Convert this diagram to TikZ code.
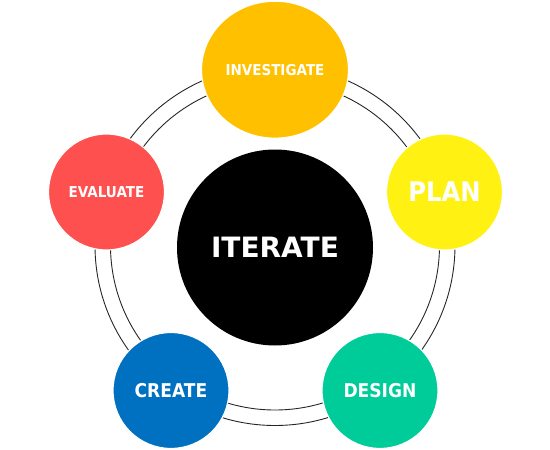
\documentclass[tikz,border=0pt]{standalone}
\usepackage{fontspec}
\usetikzlibrary{shapes.geometric}
\newfontfamily\lblfont[FakeStretch=0.9]{DejaVu Sans}
\newfontfamily\iterfont{DejaVu Sans}
\definecolor{cinv}{HTML}{FFC000}
\definecolor{cplan}{HTML}{FFF212}
\definecolor{ceval}{HTML}{FF5050}
\definecolor{ccreate}{HTML}{0070C0}
\definecolor{cdesign}{HTML}{00CC99}
\tikzset{
  ring/.style={draw=black!85, line width=0.9pt},
  stage/.style={circle, draw=white, line width=1.2pt, inner sep=0pt, minimum size=116pt, text=white},
  lbl/.style={font=\lblfont\bfseries\fontsize{#1}{#1}\selectfont}
}
\begin{document}
\begin{tikzpicture}[x=1pt,y=-1pt]
\useasboundingbox (0,0) rectangle (550,450);
\coordinate (c) at (275,245.5);
\draw[ring] (c) circle[radius=180];
\draw[ring] (c) circle[radius=164.5];
\node[circle, fill=black, inner sep=0pt, minimum size=196pt, text=white,
      font=\iterfont\bfseries\fontsize{28}{28}\selectfont] (iter) at (275,247.5) {ITERATE};
\node[ellipse, fill=cinv, draw=white, line width=1.2pt, inner sep=0pt, minimum width=147pt, minimum height=137pt,
      text=white, lbl=15] (inv) at (275,69.7) {INVESTIGATE};
\node[stage, fill=cplan, lbl=27] (plan) at (444.5,192) {PLAN};
\node[stage, fill=ceval, lbl=15] (eval) at (106.5,192) {EVALUATE};
\node[stage, fill=ccreate, lbl=19] (create) at (171,390.5) {CREATE};
\node[stage, fill=cdesign, lbl=19] (design) at (380,390.5) {DESIGN};
\end{tikzpicture}
\end{document}
